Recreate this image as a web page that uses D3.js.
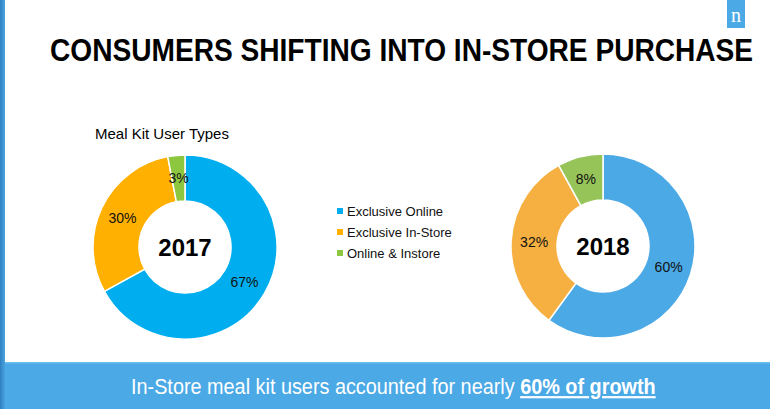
<!DOCTYPE html>
<html>
<head>
<meta charset="utf-8">
<script src="https://cdn.jsdelivr.net/npm/d3@7"></script>
<style>
html,body{margin:0;padding:0;background:#fff;}
svg{display:block;}
</style>
</head>
<body>
<svg id="chart" width="770" height="409"></svg>
<script>
const title = "CONSUMERS SHIFTING INTO IN-STORE PURCHASE";
const subtitle = "Meal Kit User Types";
const categories = ["Exclusive Online", "Exclusive In-Store", "Online & Instore"];
const years = ["2017", "2018"];
const values2017 = [67, 30, 3];
const values2018 = [60, 32, 8];
const colors2017 = ["#00AEEF", "#FFB000", "#8DC63F"];
const colors2018 = ["#4BA9E6", "#F5B041", "#97C459"];
const footerText = "In-Store meal kit users accounted for nearly ";
const footerBold = "60% of growth";

const svg = d3.select("#chart");
const W = 770, H = 409;

// left decorative strip
const defs = svg.append("defs");
const lg = defs.append("linearGradient").attr("id","strip").attr("x1","0").attr("x2","1");
lg.append("stop").attr("offset","0").attr("stop-color","#2F7FC0");
lg.append("stop").attr("offset","1").attr("stop-color","#4AA3E0");
svg.append("rect").attr("x",0).attr("y",0).attr("width",5).attr("height",H).attr("fill","url(#strip)");

// logo
svg.append("rect").attr("x",727).attr("y",0).attr("width",18).attr("height",28).attr("fill","#4BA9E6");
svg.append("text").attr("x",736).attr("y",22).attr("text-anchor","middle")
  .attr("font-family","Liberation Serif, serif").attr("font-size",20).attr("fill","#fff").text("n");

// title (condensed horizontally to mimic a narrow bold face)
const tt = svg.append("text")
  .attr("transform","translate(50,61) scale(0.84,1)")
  .attr("font-family","'Liberation Sans', Arial, sans-serif")
  .attr("font-weight","bold").attr("font-size",31).attr("fill","#000")
  .text(title);
const natural = tt.node().getComputedTextLength();
tt.attr("transform", `translate(50,61) scale(${703/natural},1)`);

// subtitle
svg.append("text").attr("x",95).attr("y",139)
  .attr("font-family","'Liberation Sans', Arial, sans-serif").attr("font-size",15).attr("fill","#000")
  .text(subtitle);

const outerR = 92, innerR = 46;
const pie = d3.pie().sort(null).value(d => d);
const arc = d3.arc().innerRadius(innerR).outerRadius(outerR);

function donut(cx, cy, values, colors, year) {
  const g = svg.append("g").attr("transform", `translate(${cx},${cy})`);
  const arcs = pie(values);
  g.selectAll("path").data(arcs).enter().append("path")
    .attr("d", arc).attr("fill", (d,i) => colors[i])
    .attr("stroke","#fff").attr("stroke-width",1.5);
  g.selectAll("text.lbl").data(arcs).enter().append("text").attr("class","lbl")
    .attr("transform", d => `translate(${arc.centroid(d)})`)
    .attr("text-anchor","middle").attr("dy","0.35em")
    .attr("font-family","'Liberation Sans', Arial, sans-serif").attr("font-size",14).attr("fill","#111")
    .text(d => d.data + "%");
  g.append("text").attr("text-anchor","middle").attr("dy","0.36em")
    .attr("font-family","'Liberation Sans', Arial, sans-serif").attr("font-weight","bold")
    .attr("font-size",24).attr("fill","#000").text(year);
}
donut(185, 247, values2017, colors2017, years[0]);
donut(603, 246, values2018, colors2018, years[1]);

// legend
const leg = svg.append("g");
categories.forEach((c,i) => {
  const y = 211 + i*21;
  leg.append("rect").attr("x",337).attr("y",y-3).attr("width",6).attr("height",6).attr("fill",colors2017[i]);
  leg.append("text").attr("x",347).attr("y",y).attr("dy","0.35em")
    .attr("font-family","'Liberation Sans', Arial, sans-serif").attr("font-size",13).attr("fill","#111").text(c);
});

// footer band
svg.append("rect").attr("x",5).attr("y",362).attr("width",W-5).attr("height",H-362).attr("fill","#4BA9E6");
svg.append("rect").attr("x",5).attr("y",362).attr("width",W-5).attr("height",1.5).attr("fill","#6BBDF0");
const ft = svg.append("text").attr("transform","translate(131,394)")
  .attr("font-family","'Liberation Sans', Arial, sans-serif")
  .attr("font-size",22).attr("fill","#fff");
ft.append("tspan").text(footerText);
ft.append("tspan").attr("font-weight","bold").attr("text-decoration","underline").text(footerBold);
const fw = ft.node().getComputedTextLength();
ft.attr("transform", `translate(131,394) scale(${525/fw},1)`);
</script>
</body>
</html>
